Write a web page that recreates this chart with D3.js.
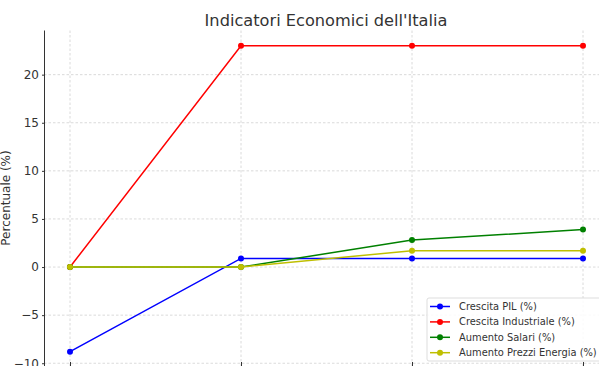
<!DOCTYPE html>
<html>
<head>
<meta charset="utf-8">
<script src="https://cdn.jsdelivr.net/npm/d3@7"></script>
<style>
  body { margin: 0; background: #fff; }
  svg { display: block; font-family: "DejaVu Sans", sans-serif; }
  svg text { font-family: "DejaVu Sans", sans-serif; }
</style>
</head>
<body>
<script>
// Data
const periods = ["P1", "P2", "P3", "P4"];
const seriesNames = ["Crescita PIL (%)", "Crescita Industriale (%)", "Aumento Salari (%)", "Aumento Prezzi Energia (%)"];
const seriesColors = ["#0000ff", "#ff0000", "#008000", "#bfbf00"];
const pil = [-8.8, 0.9, 0.9, 0.9];
const industria = [0, 23, 23, 23];
const salari = [0, 0, 2.8, 3.9];
const energia = [0, 0, 1.7, 1.7];
const yTicks = [-10, -5, 0, 5, 10, 15, 20];

const width = 599, height = 366;
const allSeries = [pil, industria, salari, energia];

const svg = d3.select("body").append("svg")
    .attr("width", width)
    .attr("height", height);

// Scales (matplotlib style 5% margins)
const x = d3.scalePoint()
    .domain(periods)
    .range([70, 583]);

const y = d3.scaleLinear()
    .domain([-10.39, 24.59])
    .range([367, 30.5]);

// Grid
const grid = svg.append("g").attr("class", "grid");
grid.selectAll(".gx")
    .data(periods)
    .join("line")
    .attr("x1", d => x(d)).attr("x2", d => x(d))
    .attr("y1", y.range()[1]).attr("y2", y.range()[0])
    .attr("stroke", "#d0d0d0")
    .attr("stroke-width", 0.8)
    .attr("stroke-dasharray", "2.5,2");
grid.selectAll(".gy")
    .data(yTicks)
    .join("line")
    .attr("x1", 44).attr("x2", width)
    .attr("y1", d => y(d)).attr("y2", d => y(d))
    .attr("stroke", "#d0d0d0")
    .attr("stroke-width", 0.8)
    .attr("stroke-dasharray", "2.5,2");

// Left axis
const yAxis = svg.append("g")
    .attr("transform", "translate(44.5,0)")
    .call(d3.axisLeft(y).tickValues(yTicks).tickSize(2.5).tickPadding(3)
        .tickFormat(d => d < 0 ? "\u2212" + Math.abs(d) : d))
    .attr("font-family", "DejaVu Sans, sans-serif");
yAxis.select(".domain").attr("stroke", "#333").attr("stroke-width", 1).attr("d", `M0,${y.range()[1]}V${y.range()[0]}`);
yAxis.selectAll(".tick line").attr("stroke", "#333");
yAxis.selectAll(".tick text").attr("fill", "#333").style("font-size", "12px");

// Bottom axis ticks (cut off by the window)
svg.append("g")
    .attr("transform", `translate(0,${y.range()[0]})`)
    .call(d3.axisBottom(x).tickSize(4).tickFormat(""))
    .call(g => g.select(".domain").attr("stroke", "#333"))
    .call(g => g.selectAll(".tick line").attr("stroke", "#333").attr("y1", -5).attr("y2", 0));

// Lines and markers
const line = d3.line()
    .x((d, i) => x(periods[i]))
    .y(d => y(d));

allSeries.forEach((values, s) => {
    svg.append("path")
        .datum(values)
        .attr("fill", "none")
        .attr("stroke", seriesColors[s])
        .attr("stroke-width", 1.5)
        .attr("d", line);
    svg.append("g").selectAll("circle")
        .data(values)
        .join("circle")
        .attr("cx", (d, i) => x(periods[i]))
        .attr("cy", d => y(d))
        .attr("r", 3)
        .attr("fill", seriesColors[s]);
});

// Title
svg.append("text")
    .attr("x", 326)
    .attr("y", 26)
    .attr("text-anchor", "middle")
    .attr("fill", "#333")
    .style("font-size", "16.2px")
    .text("Indicatori Economici dell'Italia");

// Y label
svg.append("text")
    .attr("transform", "translate(9.5,198) rotate(-90)")
    .attr("text-anchor", "middle")
    .attr("fill", "#333")
    .style("font-size", "12px")
    .text("Percentuale (%)");

// Legend
const legend = svg.append("g").attr("transform", "translate(427,298)");
legend.append("rect")
    .attr("x", 0).attr("y", 0)
    .attr("width", 180).attr("height", 63)
    .attr("rx", 2)
    .attr("fill", "rgba(255,255,255,0.85)")
    .attr("stroke", "#dddddd");
seriesNames.forEach((name, i) => {
    const ly = 8.5 + i * 15.4;
    legend.append("line")
        .attr("x1", 3).attr("x2", 23)
        .attr("y1", ly).attr("y2", ly)
        .attr("stroke", seriesColors[i])
        .attr("stroke-width", 1.5);
    legend.append("circle")
        .attr("cx", 13).attr("cy", ly).attr("r", 3)
        .attr("fill", seriesColors[i]);
    legend.append("text")
        .attr("x", 32).attr("y", ly)
        .attr("dy", "0.35em")
        .attr("fill", "#333")
        .style("font-size", "9.9px")
        .text(name);
});
</script>
</body>
</html>
